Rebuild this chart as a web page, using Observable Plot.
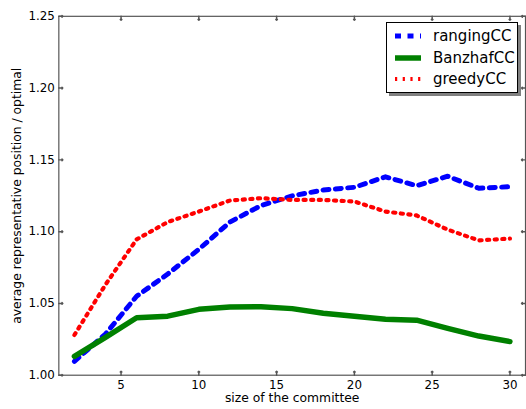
<!DOCTYPE html>
<html><head><meta charset="utf-8">
<script src="https://cdn.jsdelivr.net/npm/d3@7"></script>
<script src="https://cdn.jsdelivr.net/npm/@observablehq/plot@0.6"></script>
<style>
html,body{margin:0;padding:0;overflow:hidden;background:#fff}
#wrap{position:relative;width:526px;height:409px;overflow:hidden;font-family:"DejaVu Sans",sans-serif}
#wrap svg{display:block}
#legend{position:absolute;left:386px;top:22px;width:132px;height:71px;background:#fff;border:1px solid #000;box-shadow:3px 3px 0 #808080;box-sizing:border-box}
.row{position:absolute;left:0;height:20px;display:flex;align-items:center}
.row span{font-size:15px;color:#000;margin-left:12px;line-height:20px}
</style></head><body><div id="wrap"></div>
<script>
const committeeSize = [2, 4, 6, 8, 10, 12, 14, 16, 18, 20, 22, 24, 26, 28, 30];
const rangingCC = [1.0096, 1.0287, 1.0550, 1.0705, 1.0877, 1.1067, 1.1182, 1.1249, 1.1290, 1.1309, 1.1382, 1.1320, 1.1386, 1.1302, 1.1313];
const banzhafCC = [1.0131, 1.0264, 1.0400, 1.0411, 1.0459, 1.0475, 1.0477, 1.0464, 1.0432, 1.0411, 1.0390, 1.0383, 1.0326, 1.0273, 1.0234];
const greedyCC  = [1.0280, 1.0631, 1.0946, 1.1067, 1.1140, 1.1217, 1.1233, 1.1221, 1.1221, 1.1210, 1.1140, 1.1113, 1.1014, 1.0939, 1.0952];
const seriesNames = ["rangingCC", "BanzhafCC", "greedyCC"];
const seriesValues = [rangingCC, banzhafCC, greedyCC];
const seriesColors = ["#0000ff", "#008000", "#ff0000"];
const seriesDash = ["6,6.5", null, "2.2,5.5"];
const seriesWidth = [5, 5.5, 4.2];
const xTicks = [5, 10, 15, 20, 25, 30];
const yTicks = [1.00, 1.05, 1.10, 1.15, 1.20, 1.25];
const xLabel = "size of the committee";
const yLabel = "average representative position / optimal";

const rows = committeeSize.map((x, i) => ({x, values: seriesValues.map(s => s[i])}));

const lineMarks = seriesNames.map((name, k) =>
  Plot.line(rows, {x: "x", y: d => d.values[k], stroke: seriesColors[k],
    strokeWidth: seriesWidth[k], strokeDasharray: seriesDash[k], strokeLinejoin: "round"}));

const spine = "#555";
const chart = Plot.plot({
  width: 532, height: 409,
  marginLeft: 59, marginTop: 16, marginBottom: 30, marginRight: 1,
  style: {fontFamily: "DejaVu Sans", fontSize: "12px", color: "#000", background: "#fff"},
  x: {domain: [1, 31]},
  y: {domain: [1.0, 1.25]},
  marks: [
    ...lineMarks,
    Plot.frame({stroke: spine, strokeWidth: 1.2}),
    Plot.vector(xTicks, {x: d => d, frameAnchor: "bottom", rotate: 0, length: 4, anchor: "start", stroke: spine}),
    Plot.vector(xTicks, {x: d => d, frameAnchor: "top", rotate: 180, length: 4, anchor: "start", stroke: spine}),
    Plot.vector(yTicks, {y: d => d, frameAnchor: "left", rotate: 90, length: 4, anchor: "start", stroke: spine}),
    Plot.vector(yTicks, {y: d => d, frameAnchor: "right", rotate: 270, length: 4, anchor: "start", stroke: spine}),
    Plot.axisX({ticks: xTicks, tickSize: 0, tickPadding: 5, label: null, tickFormat: d3.format("d"), fontSize: 12}),
    Plot.axisY({ticks: yTicks, tickSize: 0, tickPadding: 4, label: null, tickFormat: d3.format(".2f"), fontSize: 12}),
    Plot.text([xLabel], {text: d => d, frameAnchor: "bottom", dy: 23, textAnchor: "middle", lineAnchor: "middle", fontSize: 12.5, fill: "#000"}),
    Plot.text([yLabel], {text: d => d, frameAnchor: "left", dx: -42, rotate: -90, textAnchor: "middle", lineAnchor: "middle", fontSize: 12.5, fill: "#000"})
  ]
});
const wrap = document.getElementById("wrap");
wrap.appendChild(chart);

// legend
const legend = d3.select(wrap).append("div").attr("id", "legend");
seriesNames.forEach((name, k) => {
  const row = legend.append("div").attr("class", "row").style("top", (3 + k * 21.7) + "px").style("left", "8px");
  const svg = row.append("svg").attr("width", 26).attr("height", 10);
  svg.append("line").attr("x1", 0).attr("x2", 26).attr("y1", 5).attr("y2", 5)
    .attr("stroke", seriesColors[k]).attr("stroke-width", seriesWidth[k])
    .attr("stroke-dasharray", seriesDash[k]);
  row.append("span").text(name);
});
</script></body></html>
